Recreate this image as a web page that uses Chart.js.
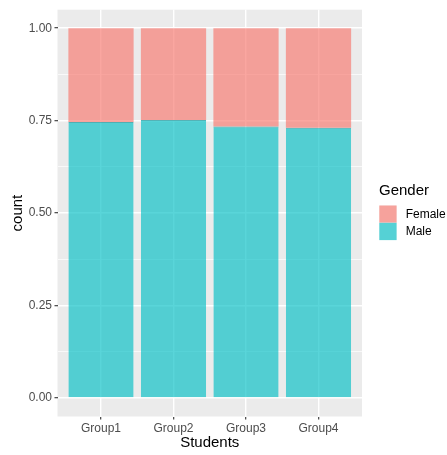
<!DOCTYPE html>
<html>
<head>
<meta charset="utf-8">
<script src="https://cdn.jsdelivr.net/npm/chart.js@4/dist/chart.umd.min.js"></script>
<style>
html,body{margin:0;padding:0;background:#fff;}
#wrap{position:relative;width:447px;height:455px;}
</style>
</head>
<body>
<div id="wrap"><canvas id="c" width="447" height="455"></canvas></div>
<script>
const categories = ["Group1", "Group2", "Group3", "Group4"];
const categoryPositions = [1, 2, 3, 4];
const maleValues = [0.746, 0.752, 0.734, 0.731];
const femaleValues = [0.254, 0.248, 0.266, 0.269];
const yTickValues = [0, 0.125, 0.25, 0.375, 0.5, 0.625, 0.75, 0.875, 1];
const yMajorTicks = [0, 0.25, 0.5, 0.75, 1];
const legendTitle = "Gender";
const legendLabels = ["Female", "Male"];

const FEMALE = "rgba(248,118,109,0.65)";
const MALE = "rgba(0,191,196,0.65)";
const FONT = "'Liberation Sans', Arial, Helvetica, sans-serif";

const isMajor = v => yMajorTicks.some(m => Math.abs(m - v) < 1e-9);

const panelBg = {
  id: 'panelBg',
  beforeDraw(chart) {
    const {ctx, chartArea: a} = chart;
    ctx.save();
    ctx.fillStyle = '#EBEBEB';
    ctx.fillRect(a.left, a.top, a.right - a.left, a.bottom - a.top);
    ctx.restore();
  }
};

const customLegend = {
  id: 'customLegend',
  afterDraw(chart) {
    const ctx = chart.ctx;
    ctx.save();
    ctx.fillStyle = '#000';
    ctx.font = '15px ' + FONT;
    ctx.textBaseline = 'middle';
    ctx.textAlign = 'left';
    ctx.fillText(legendTitle, 379, 190.5);
    const colors = [FEMALE, MALE];
    const keyX = 379.3, keyW = 17.3, keyH = 17.3, keyY0 = 205.5;
    ctx.font = '12px ' + FONT;
    legendLabels.forEach((lab, i) => {
      const y = keyY0 + i * keyH;
      ctx.fillStyle = '#F2F2F2';
      ctx.fillRect(keyX, y, keyW, keyH);
      ctx.fillStyle = colors[i];
      ctx.fillRect(keyX, y, keyW, keyH);
      ctx.fillStyle = '#000';
      ctx.fillText(lab, 405.7, y + keyH / 2 + 0.5);
    });
    ctx.restore();
  }
};

new Chart(document.getElementById('c'), {
  type: 'bar',
  data: {
    datasets: [
      {
        label: 'Male',
        data: categoryPositions.map((x, i) => ({x: x, y: maleValues[i]})),
        backgroundColor: MALE,
        borderColor: 'rgba(40,160,165,0.8)',
        borderWidth: {top: 1, left: 0, right: 0, bottom: 0},
        borderSkipped: false,
        barPercentage: 0.9,
        categoryPercentage: 1.0
      },
      {
        label: 'Female',
        data: categoryPositions.map((x, i) => ({x: x, y: femaleValues[i]})),
        backgroundColor: FEMALE,
        borderWidth: 0,
        barPercentage: 0.9,
        categoryPercentage: 1.0
      }
    ]
  },
  options: {
    responsive: false,
    animation: false,
    layout: {padding: {top: 9, right: 85, left: 0, bottom: 0}},
    plugins: {
      legend: {display: false},
      tooltip: {enabled: false}
    },
    scales: {
      x: {
        type: 'linear',
        stacked: true,
        offset: false,
        min: 0.4,
        max: 4.6,
        afterBuildTicks: s => { s.ticks = categoryPositions.map(v => ({value: v})); },
        afterFit: s => { s.height = 38.5; },
        border: {display: false},
        grid: {
          offset: false,
          color: '#FFFFFF',
          lineWidth: 1.4,
          drawTicks: true,
          tickLength: 3,
          tickColor: '#333333',
          tickWidth: 1.1
        },
        ticks: {
          padding: 1.5,
          color: '#4D4D4D',
          font: {family: FONT, size: 12},
          maxRotation: 0,
          autoSkip: false,
          callback: v => categories[categoryPositions.indexOf(v)] || ''
        },
        title: {
          display: true,
          text: 'Students',
          color: '#000',
          font: {family: FONT, size: 15},
          padding: {top: 0, bottom: 3.5}
        }
      },
      y: {
        stacked: true,
        min: -0.05,
        max: 1.05,
        afterBuildTicks: s => { s.ticks = yTickValues.map(v => ({value: v})); },
        afterFit: s => { s.width = 57.5; },
        border: {display: false},
        grid: {
          color: '#FFFFFF',
          lineWidth: c => isMajor(c.tick.value) ? 1.4 : 0.7,
          drawTicks: true,
          tickLength: 3,
          tickColor: c => isMajor(c.tick.value) ? '#333333' : 'rgba(0,0,0,0)',
          tickWidth: 1.1
        },
        ticks: {
          padding: 2.5,
          color: '#4D4D4D',
          font: {family: FONT, size: 12},
          autoSkip: false,
          callback: v => isMajor(v) ? v.toFixed(2) : ''
        },
        title: {
          display: true,
          text: 'count',
          color: '#000',
          font: {family: FONT, size: 15},
          padding: {top: 8.5, bottom: 0}
        }
      }
    }
  },
  plugins: [panelBg, customLegend]
});
</script>
</body>
</html>
